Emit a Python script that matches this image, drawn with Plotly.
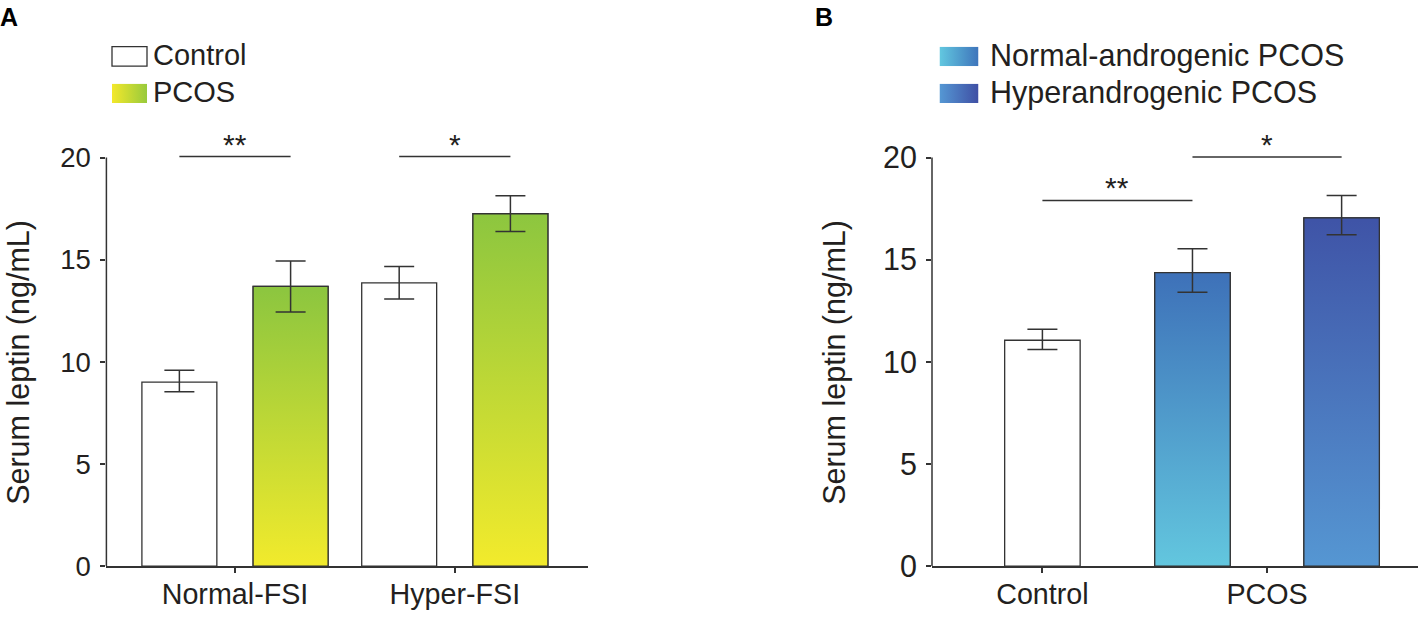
import base64
import plotly.graph_objects as go

W, H = 1418, 625
FONT = "Liberation Sans, Arial, sans-serif"
TXT = "#231f20"
LINE = "#333333"

# ---------------- data ----------------
y_ticks = [0, 5, 10, 15, 20]

a_categories = ["Normal-FSI", "Hyper-FSI"]
a_control = [9.01, 13.87]
a_control_err_up = [0.58, 0.80]
a_control_err_down = [0.47, 0.79]
a_pcos = [13.70, 17.25]
a_pcos_err_up = [1.24, 0.88]
a_pcos_err_down = [1.26, 0.87]
a_sig_labels = ["**", "*"]
a_sig_y = [20.05, 20.05]

b_categories = ["Control", "PCOS"]
b_control = [11.06]
b_control_err_up = [0.54]
b_control_err_down = [0.46]
b_normal_andro = [14.37]
b_normal_andro_err_up = [1.17]
b_normal_andro_err_down = [0.96]
b_hyper_andro = [17.05]
b_hyper_andro_err_up = [1.09]
b_hyper_andro_err_down = [0.83]
b_sig_labels = ["**", "*"]
b_sig_y = [17.9, 20.03]

# ---------------- styling ----------------
GREEN_SCALE = [[0, "#f6ec2b"], [1, "#8dc63f"]]
NA_SCALE = [[0, "#64cae0"], [1, "#3e72b9"]]
HA_SCALE = [[0, "#5699d4"], [1, "#3f54a7"]]

A_W, A_OFF = 0.341, 0.253
B_W, B_OFF = 0.336, 0.332


def px_x(p):
    return p / W


def px_y(p):
    return 1 - p / H


fig = go.Figure()


def add_bar(xpos, vals, width, fill, xa, ya, scale=None):
    fig.add_trace(go.Bar(
        x=xpos, y=vals, width=width, offset=-width / 2,
        marker=dict(color=fill, line=dict(color=LINE, width=1.3)),
        xaxis=xa, yaxis=ya, showlegend=False, hoverinfo="x+y"))
    if scale is not None:
        for xc, v in zip(xpos, vals):
            xl, xr = xc - width / 2, xc + width / 2
            fig.add_trace(go.Scatter(
                x=[xl, xl, xr, xr, xl], y=[0, v, v, 0, 0],
                mode="lines", fill="toself",
                fillgradient=dict(type="vertical", colorscale=scale, start=0, stop=v),
                line=dict(color=LINE, width=1.3),
                xaxis=xa, yaxis=ya, showlegend=False, hoverinfo="skip"))


def add_err(xpos, vals, up, down, xa, ya):
    fig.add_trace(go.Scatter(
        x=xpos, y=vals, mode="markers",
        marker=dict(size=2, color="rgba(0,0,0,0)"),
        error_y=dict(type="data", symmetric=False, array=up, arrayminus=down,
                     color=LINE, thickness=1.5, width=15),
        xaxis=xa, yaxis=ya, showlegend=False, hoverinfo="skip"))


# Panel A
a_idx = list(range(len(a_categories)))
a_ctrl_x = [i - A_OFF for i in a_idx]
a_pcos_x = [i + A_OFF for i in a_idx]
add_bar(a_ctrl_x, a_control, A_W, "white", "x", "y")
add_bar(a_pcos_x, a_pcos, A_W, "#c2d93a", "x", "y", GREEN_SCALE)
add_err(a_ctrl_x, a_control, a_control_err_up, a_control_err_down, "x", "y")
add_err(a_pcos_x, a_pcos, a_pcos_err_up, a_pcos_err_down, "x", "y")

# Panel B
b_ctrl_x = [0]
b_na_x = [1 - B_OFF]
b_ha_x = [1 + B_OFF]
add_bar(b_ctrl_x, b_control, B_W, "white", "x2", "y2")
add_bar(b_na_x, b_normal_andro, B_W, "#4f9bcf", "x2", "y2", NA_SCALE)
add_bar(b_ha_x, b_hyper_andro, B_W, "#4a75bd", "x2", "y2", HA_SCALE)
add_err(b_ctrl_x, b_control, b_control_err_up, b_control_err_down, "x2", "y2")
add_err(b_na_x, b_normal_andro, b_normal_andro_err_up, b_normal_andro_err_down, "x2", "y2")
add_err(b_ha_x, b_hyper_andro, b_hyper_andro_err_up, b_hyper_andro_err_down, "x2", "y2")

shapes = []
annotations = []

# y axis lines (0..20 only)
for xr, yr in (("x domain", "y"), ("x2 domain", "y2")):
    shapes.append(dict(type="line", xref=xr, yref=yr, x0=0, x1=0,
                       y0=y_ticks[0], y1=y_ticks[-1],
                       line=dict(color=LINE, width=1.5)))

# significance
a_pairs = [(a_ctrl_x[i], a_pcos_x[i]) for i in a_idx]
b_pairs = [(b_ctrl_x[0], b_na_x[0]), (b_na_x[0], b_ha_x[0])]
for pairs, labels, ys, xr, yr in ((a_pairs, a_sig_labels, a_sig_y, "x", "y"),
                                  (b_pairs, b_sig_labels, b_sig_y, "x2", "y2")):
    for (x0, x1), lab, yv in zip(pairs, labels, ys):
        shapes.append(dict(type="line", xref=xr, yref=yr, x0=x0, x1=x1,
                           y0=yv, y1=yv, line=dict(color=LINE, width=1.5)))
        annotations.append(dict(xref=xr, yref=yr, x=(x0 + x1) / 2, y=yv,
                                text=lab, showarrow=False, yanchor="bottom",
                                yshift=-6, font=dict(size=30, color=TXT, family=FONT)))


def svg_grad(c0, c1):
    svg = ("<svg xmlns='http://www.w3.org/2000/svg' width='40' height='20' "
           "preserveAspectRatio='none' viewBox='0 0 40 20'>"
           "<defs><linearGradient id='g' x1='0' y1='0' x2='1' y2='0'>"
           f"<stop offset='0' stop-color='{c0}'/><stop offset='1' stop-color='{c1}'/>"
           "</linearGradient></defs><rect width='40' height='20' fill='url(#g)'/></svg>")
    return "data:image/svg+xml;base64," + base64.b64encode(svg.encode()).decode()


images = []
# Legend A
shapes.append(dict(type="rect", xref="paper", yref="paper",
                   x0=px_x(112), x1=px_x(147), y0=px_y(68), y1=px_y(48),
                   line=dict(color=LINE, width=1.3), fillcolor="white"))
images.append(dict(source=svg_grad("#f3e82b", "#98ca3c"), xref="paper", yref="paper",
                   x=px_x(112), y=px_y(86), sizex=35 / W, sizey=20 / H,
                   xanchor="left", yanchor="top", sizing="stretch", layer="above"))
# Legend B
images.append(dict(source=svg_grad("#62c8e0", "#3e74bb"), xref="paper", yref="paper",
                   x=px_x(939.5), y=px_y(48), sizex=39 / W, sizey=20 / H,
                   xanchor="left", yanchor="top", sizing="stretch", layer="above"))
images.append(dict(source=svg_grad("#5598d4", "#3f4fa4"), xref="paper", yref="paper",
                   x=px_x(939.5), y=px_y(86), sizex=39 / W, sizey=20 / H,
                   xanchor="left", yanchor="top", sizing="stretch", layer="above"))

legend_texts = [("Control", 151, 57, 29), ("PCOS", 151, 95, 29),
                ("Normal-androgenic PCOS", 988, 57, 30.5),
                ("Hyperandrogenic PCOS", 988, 95, 30.5)]
for t, x, y, fs in legend_texts:
    annotations.append(dict(xref="paper", yref="paper", x=px_x(x), y=px_y(y),
                            text=t, showarrow=False, xanchor="left", yanchor="middle",
                            font=dict(size=fs, color=TXT, family=FONT)))

# Panel letters
for t, x in (("A", -2), ("B", 813)):
    annotations.append(dict(xref="paper", yref="paper", x=px_x(x), y=px_y(1),
                            text=f"<b>{t}</b>", showarrow=False, xanchor="left",
                            yanchor="top", font=dict(size=25, color="black", family=FONT)))

# y axis titles
for x in (19, 835):
    annotations.append(dict(xref="paper", yref="paper", x=px_x(x), y=px_y(373),
                            text="Serum leptin (ng/mL)", textangle=-90, showarrow=False,
                            xanchor="center", yanchor="middle",
                            font=dict(size=30.5, color=TXT, family=FONT)))

common_x = dict(showline=True, linecolor=LINE, linewidth=1.5, ticks="outside",
                ticklen=5, tickwidth=1.5, tickcolor=LINE, showgrid=False,
                zeroline=False, tickfont=dict(size=28.7, color=TXT, family=FONT),
                ticklabelstandoff=-3, fixedrange=True)
common_y = dict(showline=False, ticks="outside", ticklen=5, tickwidth=1.5,
                tickcolor=LINE, showgrid=False, zeroline=False, tickvals=y_ticks,
                range=[0, 21.5], domain=[px_y(582), px_y(130.5)], fixedrange=True)

fig.update_layout(
    width=W, height=H, margin=dict(l=0, r=0, t=0, b=0),
    paper_bgcolor="white", plot_bgcolor="rgba(0,0,0,0)",
    barmode="overlay", showlegend=False,
    font=dict(family=FONT, color=TXT),
    xaxis=dict(domain=[px_x(106.4), px_x(588)], range=[-0.585, 1.606],
               tickvals=a_idx, ticktext=a_categories, anchor="y", **common_x),
    yaxis=dict(anchor="x", ticklabelstandoff=4,
               tickfont=dict(size=27.5, color=TXT, family=FONT), **common_y),
    xaxis2=dict(domain=[px_x(932), 1.0], range=[-0.4915, 1.672],
                tickvals=[0, 1], ticktext=b_categories, anchor="y2", **common_x),
    yaxis2=dict(anchor="x2", ticklabelstandoff=3,
                tickfont=dict(size=30.5, color=TXT, family=FONT), **common_y),
    shapes=shapes, annotations=annotations, images=images,
)

fig.write_html("out.html", config={"displayModeBar": False},
               post_script="document.body.style.margin='0px';document.body.style.overflow='hidden';")
